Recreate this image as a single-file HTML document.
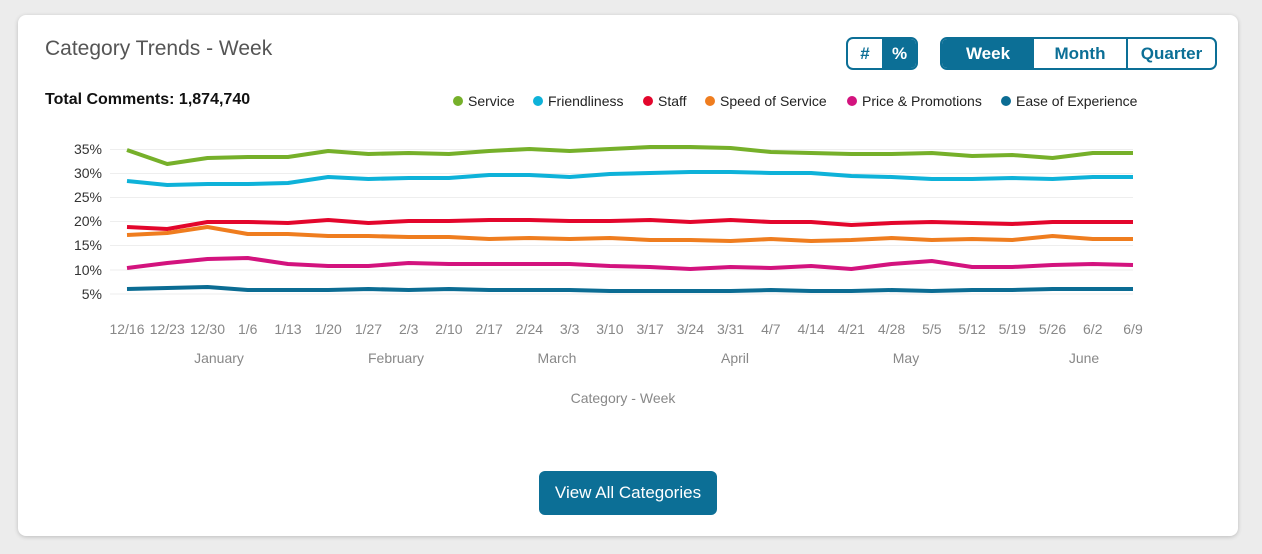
<!DOCTYPE html>
<html><head><style>
body{margin:0;width:1262px;height:554px;background:#ececec;font-family:"Liberation Sans",sans-serif;position:relative;overflow:hidden}
.card{position:absolute;left:18px;top:15px;width:1220px;height:521px;background:#fff;border-radius:8px;box-shadow:0 1px 4px rgba(0,0,0,.2)}
.t{position:absolute;left:45px;top:37px;font-size:21px;color:#555}
.tc{position:absolute;left:45px;top:91px;font-size:16px;font-weight:bold;color:#111}
.seg{position:absolute;top:37px;height:33px;border:2px solid #0c6f96;border-radius:7px;box-sizing:border-box;display:flex;overflow:hidden}
.seg div{display:flex;align-items:center;justify-content:center;font-size:17px;font-weight:bold;color:#0c6f96}
.seg .on{background:#0c6f96;color:#fff}
.btn{position:absolute;left:539px;top:471px;width:178px;height:44px;background:#0c6f96;border-radius:6px;color:#fff;font-size:17px;display:flex;align-items:center;justify-content:center}
</style></head><body>
<div class="card"></div>
<div class="t">Category Trends - Week</div>
<div class="tc">Total Comments: 1,874,740</div>
<div class="seg" style="left:846px;width:72px"><div style="width:34px;border-right:1px solid #0c6f96">#</div><div class="on" style="flex:1">%</div></div>
<div class="seg" style="left:940px;width:277px"><div class="on" style="width:92px">Week</div><div style="width:92px;border-right:2px solid #0c6f96">Month</div><div style="flex:1">Quarter</div></div>
<div class="btn">View All Categories</div>
<svg width="1262" height="554" style="position:absolute;left:0;top:0" font-family="Liberation Sans, sans-serif">
<g font-size="14" fill="#222">
<circle cx="458" cy="101" r="5" fill="#76b02a"/><text x="468" y="106">Service</text>
<circle cx="538" cy="101" r="5" fill="#0eb2d9"/><text x="548" y="106">Friendliness</text>
<circle cx="648" cy="101" r="5" fill="#e3062c"/><text x="658" y="106">Staff</text>
<circle cx="710" cy="101" r="5" fill="#ef7d1f"/><text x="720" y="106">Speed of Service</text>
<circle cx="852" cy="101" r="5" fill="#d3137e"/><text x="862" y="106">Price &amp; Promotions</text>
<circle cx="1006" cy="101" r="5" fill="#0b6c93"/><text x="1016" y="106">Ease of Experience</text>
</g>
<g stroke="#eeeeee" stroke-width="1">
<line x1="110" x2="1133" y1="149.5" y2="149.5"/><line x1="110" x2="1133" y1="173.5" y2="173.5"/><line x1="110" x2="1133" y1="197.5" y2="197.5"/><line x1="110" x2="1133" y1="221.5" y2="221.5"/><line x1="110" x2="1133" y1="245.5" y2="245.5"/><line x1="110" x2="1133" y1="270" y2="270"/><line x1="110" x2="1133" y1="294" y2="294"/>
</g>
<g font-size="14" fill="#333" text-anchor="end">
<text x="102" y="154">35%</text><text x="102" y="178">30%</text><text x="102" y="202">25%</text><text x="102" y="226">20%</text><text x="102" y="250">15%</text><text x="102" y="275">10%</text><text x="102" y="299">5%</text>
</g>
<g id="xl" font-size="14" fill="#888" text-anchor="middle"></g>
<g font-size="14" fill="#888" text-anchor="middle">
<text x="219" y="363">January</text><text x="396" y="363">February</text><text x="557" y="363">March</text><text x="735" y="363">April</text><text x="906" y="363">May</text><text x="1084" y="363">June</text>
<text x="623" y="403">Category - Week</text>
</g>
<g id="ln" fill="none" stroke-width="4" stroke-linejoin="round"></g>
</svg>
<script>
var labs="12/16 12/23 12/30 1/6 1/13 1/20 1/27 2/3 2/10 2/17 2/24 3/3 3/10 3/17 3/24 3/31 4/7 4/14 4/21 4/28 5/5 5/12 5/19 5/26 6/2 6/9".split(" ");
var X=i=>127+i*40.24,s="";
labs.forEach((l,i)=>s+='<text x="'+X(i)+'" y="334">'+l+'</text>');
document.getElementById("xl").innerHTML=s;
var d=[["#76b02a",[150,164,158,157,157,151,154,153,154,151,149,151,149,147,147,148,152,153,154,154,153,156,155,158,153,153]],
["#0eb2d9",[181,185,184,184,183,177,179,178,178,175,175,177,174,173,172,172,173,173,176,177,179,179,178,179,177,177]],
["#e3062c",[227,229,222,222,223,220,223,221,221,220,220,221,221,220,222,220,222,222,225,223,222,223,224,222,222,222]],
["#ef7d1f",[235,233,227,234,234,236,236,237,237,239,238,239,238,240,240,241,239,241,240,238,240,239,240,236,239,239]],
["#d3137e",[268,263,259,258,264,266,266,263,264,264,264,264,266,267,269,267,268,266,269,264,261,267,267,265,264,265]],
["#0b6c93",[289,288,287,290,290,290,289,290,289,290,290,290,291,291,291,291,290,291,291,290,291,290,290,289,289,289]]];
s="";d.forEach(a=>{s+='<polyline stroke="'+a[0]+'" points="'+a[1].map((y,i)=>X(i)+','+y).join(' ')+'"/>'});
document.getElementById("ln").innerHTML=s;
</script>
</body></html>
